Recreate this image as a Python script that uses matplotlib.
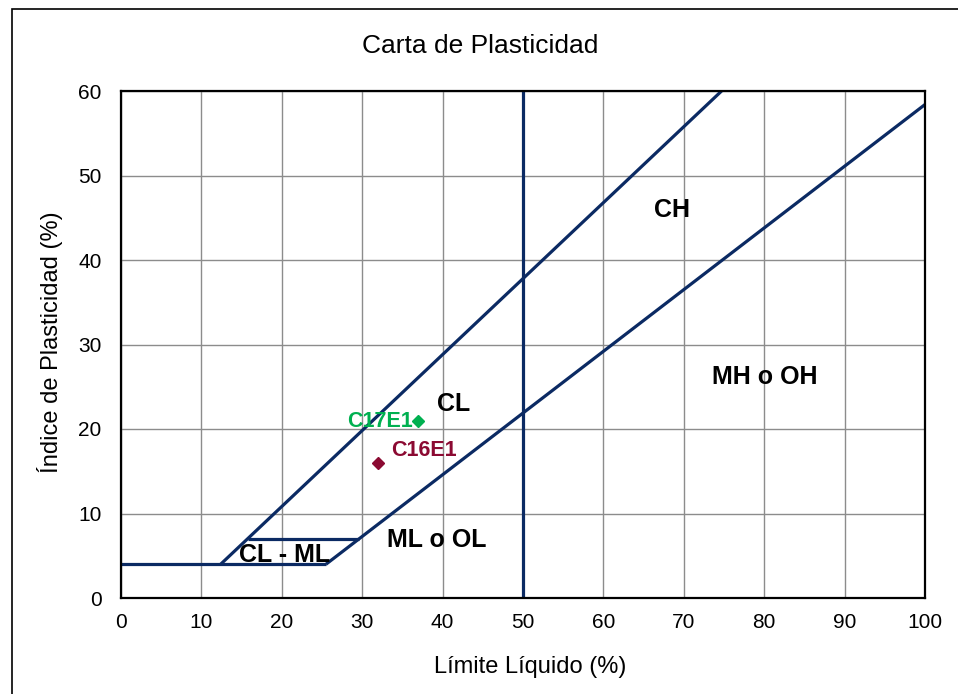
import matplotlib
matplotlib.use("Agg")
import matplotlib.pyplot as plt
from matplotlib.patches import Rectangle

plt.rcParams['font.family'] = ['Liberation Sans', 'DejaVu Sans']

# Boundary lines of the plasticity chart (liquid limit, plasticity index)
u_line_ll = [12.4, 74.7]
u_line_pi = [4.0, 60.0]
a_line_ll = [25.5, 100.0]
a_line_pi = [4.0, 58.4]
pi4_ll = [0.0, 25.5]
pi4_pi = [4.0, 4.0]
pi7_ll = [15.8, 29.6]
pi7_pi = [7.0, 7.0]
ll50_ll = [50.0, 50.0]
ll50_pi = [0.0, 60.0]

# Samples
sample_names = ["C17E1", "C16E1"]
sample_ll = [37.0, 32.0]
sample_pi = [21.0, 16.0]
sample_colors = ["#00B050", "#8B0A32"]

# Zone labels
zone_names = ["CH", "MH o OH", "CL", "ML o OL", "CL - ML"]
zone_ll = [68.5, 80.1, 41.4, 39.3, 20.4]
zone_pi = [45.9, 26.2, 23.0, 6.9, 5.1]

x_ticks = list(range(0, 101, 10))
y_ticks = list(range(0, 61, 10))

navy = "#0B2A63"

fig = plt.figure(figsize=(9.58, 6.94), dpi=100)
# outer chart frame
fig.patches.append(Rectangle((12 / 958, -0.05), 1.2, 1 - 9 / 694 + 0.05,
                             transform=fig.transFigure, fill=False,
                             edgecolor="black", linewidth=1.2))

ax = fig.add_axes([121 / 958, 1 - 598 / 694, (925 - 121) / 958, (598 - 91) / 694])
ax.set_xlim(0, 100)
ax.set_ylim(0, 60)
ax.set_xticks(x_ticks)
ax.set_yticks(y_ticks)
ax.grid(True, color="#8C8C8C", linewidth=1.0)
ax.set_axisbelow(True)
ax.tick_params(length=0, labelsize=15)
ax.tick_params(axis="x", pad=11)
ax.tick_params(axis="y", pad=14)
for s in ax.spines.values():
    s.set_linewidth(1.6)
    s.set_color("black")

for xs, ys in [(u_line_ll, u_line_pi), (a_line_ll, a_line_pi),
               (pi4_ll, pi4_pi), (pi7_ll, pi7_pi), (ll50_ll, ll50_pi)]:
    ax.plot(xs, ys, color=navy, linewidth=2.3, solid_capstyle="butt", clip_on=True)

for name, x, y, c in zip(sample_names, sample_ll, sample_pi, sample_colors):
    ax.plot([x], [y], marker="D", markersize=6.5, color=c, linestyle="none")

ax.text(sample_ll[0] - 0.7, sample_pi[0] - 0.1, sample_names[0], color=sample_colors[0],
        fontsize=15.5, fontweight="bold", ha="right", va="center")
ax.text(sample_ll[1] + 1.6, sample_pi[1] + 1.5, sample_names[1], color=sample_colors[1],
        fontsize=15.5, fontweight="bold", ha="left", va="center")

for name, x, y in zip(zone_names, zone_ll, zone_pi):
    ax.text(x, y, name, fontsize=18, fontweight="bold", ha="center", va="center")

fig.text(530 / 958, 1 - 667 / 694, "Límite Líquido (%)", fontsize=17,
         ha="center", va="center")
fig.text(50 / 958, 1 - 342 / 694, "Índice de Plasticidad (%)", fontsize=17,
         ha="center", va="center", rotation=90)
fig.text(480 / 958, 1 - 46 / 694, "Carta de Plasticidad", fontsize=19,
         ha="center", va="center")

fig.savefig("out.png", dpi=100)
